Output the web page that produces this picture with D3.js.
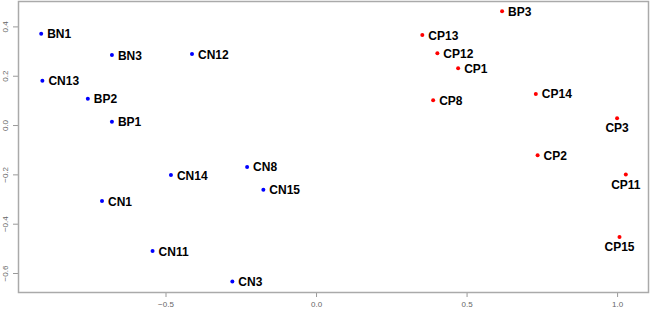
<!DOCTYPE html>
<html>
<head>
<meta charset="utf-8">
<script src="https://cdn.jsdelivr.net/npm/d3@7"></script>
<style>
  body { margin: 0; background: #fff; }
  svg { display: block; }
  .tick text { font-family: "Liberation Sans", Arial, sans-serif; font-size: 8px; fill: #666; }
  .lbl { font-family: "Liberation Sans", Arial, sans-serif; font-size: 12px; font-weight: bold; fill: #000; }
</style>
</head>
<body>
<div id="chart"></div>
<script>
'use strict';

const names  = ['BN1', 'BN3', 'CN12', 'CN13', 'BP2', 'BP1', 'CN14', 'CN1', 'CN11', 'CN8', 'CN15', 'CN3',
                'BP3', 'CP13', 'CP12', 'CP1', 'CP8', 'CP14', 'CP3', 'CP2', 'CP11', 'CP15'];
const xVals  = [-0.913, -0.678, -0.412, -0.909, -0.758, -0.678, -0.482, -0.711, -0.543, -0.229, -0.175, -0.278,
                 0.618, 0.353, 0.403, 0.472, 0.389, 0.730, 1.000, 0.736, 1.029, 1.008];
const yVals  = [0.370, 0.284, 0.288, 0.180, 0.107, 0.013, -0.203, -0.308, -0.511, -0.170, -0.262, -0.634,
                0.461, 0.365, 0.291, 0.230, 0.101, 0.126, 0.028, -0.122, -0.201, -0.454];
const groups = ['B', 'B', 'B', 'B', 'B', 'B', 'B', 'B', 'B', 'B', 'B', 'B',
                'R', 'R', 'R', 'R', 'R', 'R', 'R', 'R', 'R', 'R'];
// labels drawn under the point instead of to the right
const below  = ['CP3', 'CP11', 'CP15'];
const xTicks = [-0.5, 0.0, 0.5, 1.0];
const yTicks = [-0.6, -0.4, -0.2, 0.0, 0.2, 0.4];

const width = 650, height = 311;
const mLeft = 18, mRight = 649, mTop = 1, mBottom = 292;

const data = names.map((n, i) => ({ name: n, x: xVals[i], y: yVals[i], g: groups[i] }));

const svg = d3.select('#chart').append('svg')
    .attr('width', width)
    .attr('height', height);

const scaleX = d3.scaleLinear().domain([-0.99, 1.106]).range([mLeft, mRight]);
const scaleY = d3.scaleLinear().domain([-0.677, 0.503]).range([mBottom, mTop]);

const fmt = d3.format('.1f');

// axes
const xAxis = svg.append('g')
    .attr('transform', `translate(0,${mBottom})`)
    .call(d3.axisBottom(scaleX).tickValues(xTicks).tickFormat(fmt).tickSize(5).tickSizeOuter(0));
xAxis.select('.domain').remove();
xAxis.selectAll('line').attr('stroke', '#999');
xAxis.selectAll('text').attr('dy', '0.9em');

const yAxis = svg.append('g')
    .attr('transform', `translate(${mLeft},0)`)
    .call(d3.axisLeft(scaleY).tickValues(yTicks).tickFormat(fmt).tickSize(5).tickSizeOuter(0));
yAxis.select('.domain').remove();
yAxis.selectAll('line').attr('stroke', '#999');
yAxis.selectAll('text')
    .attr('x', 0).attr('dy', 0)
    .attr('text-anchor', 'middle')
    .attr('transform', 'translate(-10,0) rotate(-90)');

// plot frame
svg.append('rect')
    .attr('x', mLeft + 0.5).attr('y', mTop + 0.5)
    .attr('width', mRight - mLeft - 1).attr('height', mBottom - mTop)
    .attr('fill', 'none')
    .attr('stroke', '#aaa')
    .attr('stroke-width', 1.5);

// points
svg.append('g').selectAll('circle')
    .data(data)
    .join('circle')
    .attr('cx', d => scaleX(d.x))
    .attr('cy', d => scaleY(d.y))
    .attr('r', 2)
    .attr('fill', d => d.g === 'B' ? '#0000ff' : '#ff0000');

// labels
svg.append('g').selectAll('text')
    .data(data)
    .join('text')
    .classed('lbl', true)
    .attr('x', d => below.includes(d.name) ? scaleX(d.x) : scaleX(d.x) + 6)
    .attr('y', d => below.includes(d.name) ? scaleY(d.y) + 14 : scaleY(d.y) + 4.5)
    .attr('text-anchor', d => below.includes(d.name) ? 'middle' : 'start')
    .text(d => d.name);
</script>
</body>
</html>
